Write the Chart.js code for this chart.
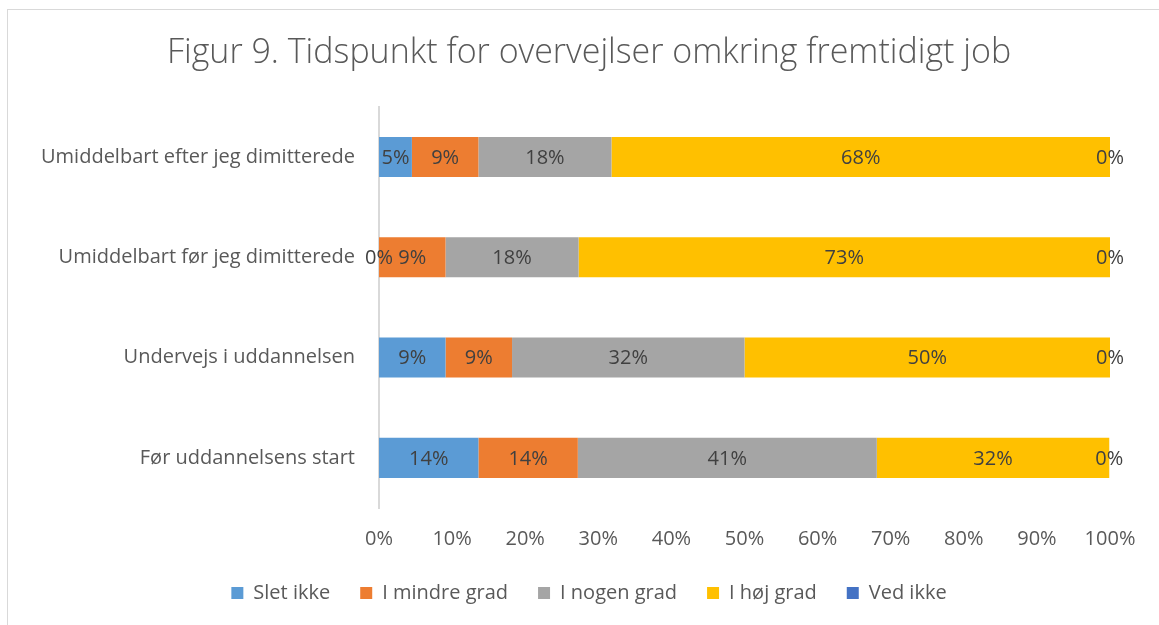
<!DOCTYPE html>
<html>
<head>
<meta charset="utf-8">
<script src="https://cdn.jsdelivr.net/npm/chart.js@4"></script>
<style>
  html, body { margin: 0; padding: 0; background: #fff; }
  #wrap { position: relative; width: 1159px; height: 625px; }
  #frame { position: absolute; left: 7px; top: 9px; width: 1160px; height: 630px; border: 1px solid #d9d9d9; box-sizing: border-box; }
  canvas { position: absolute; left: 0; top: 0; }
</style>
</head>
<body>
<div id="wrap">
  <div id="frame"></div>
  <canvas id="myChart" width="1159" height="625"></canvas>
</div>
<script>
  "use strict";

  // categories, top to bottom
  const categories = [
    "Umiddelbart efter jeg dimitterede",
    "Umiddelbart før jeg dimitterede",
    "Undervejs i uddannelsen",
    "Før uddannelsens start",
  ];

  // shares in percent
  const sletIkke = [4.5, 0, 9.1, 13.6];
  const mindreGrad = [9.1, 9.1, 9.1, 13.6];
  const nogenGrad = [18.2, 18.2, 31.8, 40.9];
  const hojGrad = [68.2, 72.7, 50.0, 31.8];
  const vedIkke = [0, 0, 0, 0];

  const xTicks = [0, 10, 20, 30, 40, 50, 60, 70, 80, 90, 100];

  const fontFamily = "'Open Sans', sans-serif";

  /* draws the value labels in the middle of each segment */
  const barLabels = {
    id: "barLabels",
    afterDatasetsDraw(chart) {
      const ctx = chart.ctx;
      ctx.save();
      ctx.font = "20px " + fontFamily;
      ctx.fillStyle = "#404040";
      ctx.textAlign = "center";
      ctx.textBaseline = "middle";
      chart.data.datasets.forEach((ds, i) => {
        const meta = chart.getDatasetMeta(i);
        meta.data.forEach((bar, j) => {
          const x = (bar.x + bar.base) / 2;
          ctx.fillText(Math.round(ds.data[j]) + "%", x, bar.y + 1);
        });
      });
      ctx.restore();
    },
  };

  // let the long category names run left of the axis box without being clipped
  const wideLabels = {
    id: "wideLabels",
    afterLayout(chart) {
      chart.scales.y.left = 10;
    },
  };

  const canvas = document.getElementById("myChart");
  const ctx = canvas.getContext("2d");

  new Chart(ctx, {
    type: "bar",
    data: {
      labels: categories,
      datasets: [
        { label: "Slet ikke", data: sletIkke, backgroundColor: "#5B9BD5" },
        { label: "I mindre grad", data: mindreGrad, backgroundColor: "#ED7D31" },
        { label: "I nogen grad", data: nogenGrad, backgroundColor: "#A5A5A5" },
        { label: "I høj grad", data: hojGrad, backgroundColor: "#FFC000" },
        { label: "Ved ikke", data: vedIkke, backgroundColor: "#4472C4" },
      ],
    },
    options: {
      indexAxis: "y",
      responsive: false,
      animation: false,
      datasets: {
        bar: { categoryPercentage: 1, barPercentage: 0.4 },
      },
      layout: { padding: { left: 68, right: 49, top: 0, bottom: 12 } },
      scales: {
        x: {
          stacked: true,
          min: 0,
          max: 100,
          afterBuildTicks(scale) {
            scale.ticks = xTicks.map((v) => ({ value: v }));
          },
          afterFit(scale) {
            scale.height = 45;
          },
          grid: { display: false },
          border: { display: false },
          ticks: {
            color: "#595959",
            font: { family: fontFamily, size: 20 },
            padding: 11,
            callback: (v) => v + "%",
          },
        },
        y: {
          stacked: true,
          grid: { display: false },
          border: { display: true, color: "#d9d9d9", width: 2 },
          afterFit(scale) {
            scale.width = 311;
          },
          ticks: {
            color: "#595959",
            font: { family: fontFamily, size: 20 },
            padding: 16,
          },
        },
      },
      plugins: {
        title: {
          display: true,
          text: "Figur 9. Tidspunkt for overvejlser omkring fremtidigt job",
          color: "#595959",
          font: { family: fontFamily, size: 34, weight: "300" },
          padding: { top: 33, bottom: 33 },
        },
        legend: {
          position: "bottom",
          labels: {
            color: "#595959",
            font: { family: fontFamily, size: 20 },
            boxWidth: 12,
            boxHeight: 12,
            padding: 30,
          },
        },
        tooltip: { enabled: false },
      },
    },
    plugins: [barLabels, wideLabels],
  });
</script>
</body>
</html>
